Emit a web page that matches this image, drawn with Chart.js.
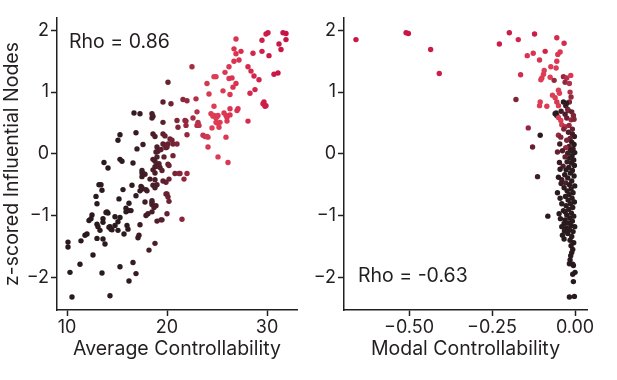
<!DOCTYPE html>
<html>
<head>
<meta charset="utf-8">
<script src="https://cdn.jsdelivr.net/npm/chart.js@4/dist/chart.umd.min.js"></script>
<style>
  html, body { margin: 0; padding: 0; background: #fff; }
  #wrap { position: relative; width: 617px; height: 380px; }
  canvas { position: absolute; top: 0; }
  #avgChart { left: 0; }
  #modChart { left: 310px; }
</style>
</head>
<body>
<div id="wrap">
  <canvas id="avgChart" width="310" height="380"></canvas>
  <canvas id="modChart" width="307" height="380"></canvas>
</div>
<script>
// axis ticks
const yTicks = [-2, -1, 0, 1, 2];
const avgTicks = [10, 20, 30];
const modTicks = [-0.5, -0.25, 0];

// left panel: average controllability vs z-scored influential nodes
const avgX = [
  10.5, 10.3, 10.1, 10.1, 11.3, 11.4, 11.8, 12.0, 12.6, 12.2, 12.4, 12.5, 12.9, 13.0, 13.2, 13.4,
  13.5, 13.0, 13.1, 13.3, 13.0, 13.6, 13.6, 13.6, 13.8, 13.5, 13.7, 14.1, 13.9, 14.1, 14.3, 14.5,
  14.8, 14.8, 14.3, 15.1, 15.3, 15.3, 15.5, 15.2, 15.3, 15.1, 15.3, 15.6, 15.7, 15.9, 16.0, 16.1,
  16.2, 16.2, 16.4, 16.2, 16.5, 16.6, 16.7, 16.6, 16.9, 16.9, 16.9, 17.0, 17.1, 17.2, 17.3, 17.3,
  17.5, 17.6, 17.6, 17.5, 17.9, 18.0, 17.8, 17.9, 18.1, 18.2, 18.3, 18.5, 18.6, 18.5, 18.5, 18.5,
  18.5, 18.8, 18.8, 18.8, 19.0, 18.9, 19.1, 19.0, 19.0, 19.0, 19.2, 19.3, 19.5, 19.6, 19.5, 19.6,
  19.6, 19.6, 20.0, 19.8, 19.7, 19.9, 19.9, 20.1, 20.0, 20.1, 20.1, 20.2, 20.3, 20.5, 20.6, 20.4,
  20.6, 20.8, 21.0, 21.0, 21.1, 21.3, 21.5, 21.6, 21.7, 21.8, 22.0, 22.0, 22.0, 22.5, 22.6, 22.9,
  23.0, 23.1, 23.0, 23.2, 23.6, 23.8, 24.0, 24.1, 24.1, 24.2, 24.4, 24.5, 24.6, 24.7, 24.7, 24.9,
  24.9, 25.0, 25.1, 25.1, 25.2, 25.3, 25.6, 25.7, 25.8, 25.9, 26.0, 25.9, 26.0, 26.1, 26.2, 26.2,
  26.3, 26.5, 26.6, 26.7, 26.7, 26.9, 26.9, 26.9, 27.0, 27.1, 27.2, 27.4, 28.1, 28.1, 28.3, 28.4,
  28.6, 28.7, 28.8, 29.2, 29.5, 29.5, 29.6, 29.8, 29.9, 29.7, 29.9, 30.1, 30.2, 30.7, 31.1, 31.2,
  31.4, 31.6, 31.9, 31.9,
  14.2, 14.4, 14.0, 15.1, 15.9, 18.9, 18.7, 19.4, 17.3, 17.4, 20.2, 19.4, 19.9, 20.1, 18.6, 18.8,
  19.8, 18.6, 18.8, 19.0, 19.1, 18.6, 20.2, 21.2, 17.5, 17.8, 17.5, 18.8, 18.6, 19.6, 17.5, 18.8,
  20.0, 18.5, 21.9, 21.9, 24.7, 25.0, 26.3, 24.9, 24.0, 26.3
];
const avgY = [
  -2.32, -1.92, -1.43, -1.51, -1.79, -1.41, -1.32, -1.30, -1.64, -1.08, -1.05, -0.99, -0.69, -0.81, -0.50, -0.50,
  -0.59, -1.14, -1.18, -1.24, -1.37, -1.05, -1.11, -1.38, -1.46, -1.93, -0.14, -0.23, -0.95, -0.96, -1.18, -1.23,
  -1.16, -1.02, -2.30, 0.22, 0.31, -0.09, -0.12, -0.73, -1.03, -1.24, -1.83, -0.58, -1.30, -0.94, -1.16, -1.22,
  -0.80, -0.92, -0.92, -2.06, -0.51, -1.76, 0.66, -0.15, 0.34, -0.68, -1.94, 0.08, -1.36, -1.32, 0.65, -1.15,
  -0.31, -0.32, 0.15, -0.57, -0.58, -0.60, -0.78, -1.00, -0.97, -1.56, -0.41, 0.65, 0.61, 0.58, -0.76, -0.82,
  -0.94, -1.45, -0.31, -0.21, 0.11, 0.03, 0.04, -0.05, -0.50, -1.09, -0.16, -0.22, -0.27, 0.84, -1.07, 0.32,
  0.51, 0.16, 0.11, 0.14, -0.05, -0.46, -0.65, -0.70, -0.97, 1.16, -0.17, -0.77, 0.24, 0.22, 0.16, 0.81,
  -0.03, -0.32, 0.16, 0.54, 0.43, -0.32, -1.06, 0.88, -0.41, 0.54, 0.86, -0.32, 0.31, 1.41, 0.58, 0.89,
  0.68, 0.51, 0.46, 0.46, 0.30, 0.28, 1.14, 0.27, 0.11, 0.97, 0.65, 0.42, 0.61, 0.77, 1.25, 1.25,
  0.58, 0.50, -0.05, 0.62, 0.43, 0.51, 1.02, 0.66, 1.32, 0.62, 0.59, 0.27, 0.53, -0.14, 1.41, 1.22,
  0.73, 1.23, 1.08, 1.70, 1.50, 1.86, 1.62, 1.14, 0.70, 0.73, 1.52, 1.66, 0.53, 1.41, 0.98, 1.34,
  1.63, 1.26, 1.04, 1.20, 1.66, 1.84, 0.81, 0.77, 0.78, 0.84, 1.94, 1.96, 1.59, 1.29, 1.31, 1.78,
  1.69, 1.96, 1.95, 1.85,
  -1.19, -1.22, -0.94, -1.10, -0.88, -0.84, -0.87, -1.07, -0.60, -0.53, -0.41, 0.07, 0.10, 0.16, 0.32, 0.28,
  0.29, -0.09, -0.12, -0.19, -0.20, -0.26, -0.19, -0.32, -0.27, -0.33, -0.37, -0.42, -0.51, -0.44, -0.55, -0.55,
  -0.65, -0.79, 0.53, 0.46, 0.62, 0.60, 0.63, 0.51, 0.28, 0.96
];

// right panel: modal controllability, same y, colour level
const modX = [
  -0.660, -0.509, -0.502, -0.435, -0.409, -0.228, -0.198, -0.171, -0.122, -0.055, -0.033, -0.144, -0.126, -0.164, -0.090, -0.107,
  -0.052, -0.045, -0.055, -0.057, -0.073, -0.093, -0.095, -0.100, -0.103, -0.075, -0.063, -0.035, -0.025, -0.013, -0.030, -0.017,
  -0.178, -0.105, -0.107, -0.085, -0.068, -0.060, -0.050, -0.047, -0.055, -0.050, -0.015, -0.012, -0.017, -0.035, -0.028, -0.022,
  -0.060, -0.055, -0.050, -0.043, -0.020, -0.010, -0.005, -0.030, -0.025, -0.012, -0.003, -0.040, -0.030, -0.018, -0.008, -0.141,
  -0.105, -0.128, -0.113, -0.082, -0.050, -0.043, -0.053, -0.047, -0.053, -0.040, -0.013, -0.017, -0.005, 0.000, -0.007, -0.005,
  -0.017, -0.002, -0.038, -0.033, -0.035, -0.030, -0.033, -0.015, -0.007,
  -0.020, -0.008, -0.002, -0.015, -0.025, -0.010, -0.003, -0.018, -0.028, -0.006, -0.014, -0.001, -0.022, -0.009, -0.030, -0.016,
  -0.004, -0.024, -0.011, -0.036, -0.002, -0.019, -0.027, -0.008, -0.014, -0.031, -0.003, -0.022, -0.040, -0.010, -0.028, -0.017,
  -0.001, -0.033, -0.012, -0.024, -0.006, -0.018, -0.029, -0.009, -0.021, -0.002, -0.014, -0.027, -0.007, -0.019, -0.011, -0.025,
  -0.004, -0.016, -0.030, -0.008, -0.021, -0.012, -0.001, -0.026, -0.017, -0.006, -0.022, -0.010, -0.015, -0.004, -0.012, -0.007,
  -0.010, -0.032, -0.040, -0.044, -0.048, -0.045, -0.042, -0.045, -0.050, -0.038, -0.046, -0.034, -0.057, -0.026, -0.042
];
const modY = [
  1.85, 1.96, 1.95, 1.69, 1.30, 1.78, 1.96, 1.85, 1.94, 1.88, 1.79, 1.59, 1.63, 1.28, 1.66, 1.52,
  1.61, 1.65, 1.50, 1.39, 1.41, 1.35, 1.29, 1.23, 1.20, 1.24, 1.19, 1.25, 1.23, 1.27, 1.16, 1.14,
  0.88, 0.84, 0.78, 0.77, 0.95, 0.91, 1.03, 0.98, 0.84, 0.78, 1.00, 0.92, 0.84, 0.84, 0.78, 0.72,
  0.65, 0.62, 0.59, 0.54, 0.70, 0.68, 0.62, 0.64, 0.58, 0.55, 0.56, 0.47, 0.44, 0.46, 0.40, 0.42,
  0.30, 0.11, -0.37, -1.01, 0.30, 0.27, 0.03, -0.14, -0.63, -0.81, -1.65, -1.78, -1.81, -1.92, -1.95, -2.07,
  -2.32, -2.31, -1.32, -1.38, -0.92, -0.94, -1.13, -1.72, -1.79,
  0.35, 0.32, 0.28, 0.25, 0.22, 0.19, 0.15, 0.12, 0.10, 0.08, 0.05, 0.02, 0.01, -0.03, -0.05, -0.07,
  -0.10, -0.13, -0.15, -0.20, -0.19, -0.22, -0.26, -0.27, -0.31, -0.34, -0.36, -0.39, -0.42, -0.44, -0.47, -0.50,
  -0.52, -0.55, -0.57, -0.60, -0.63, -0.66, -0.69, -0.72, -0.75, -0.78, -0.81, -0.84, -0.87, -0.90, -0.96, -0.99,
  -1.01, -1.04, -1.07, -1.09, -1.12, -1.16, -1.18, -1.20, -1.23, -1.26, -1.29, -1.34, -1.40, -1.44, -1.49, -1.55,
  -1.60, -1.25, -1.18, -1.05, -0.97, -0.72, -0.48, -0.25, -0.38, 0.05, 0.16, 0.40, 0.66, 0.82, 0.69
];
const modC = [
  31, 31, 31, 30, 30, 30, 30, 29, 30, 28, 28, 27, 27, 28, 29, 27,
  26, 26, 26, 25, 25, 25, 25, 25, 25, 25, 22, 22, 23, 26, 22, 23,
  21, 25, 25, 25, 25, 25, 25, 25, 24, 25, 23, 22, 21, 16, 18, 20,
  15, 17, 25, 25, 21, 20, 21, 19, 20, 22, 21, 24, 23, 22, 20, 22,
  15, 20, 18, 15, 22, 21, 20, 17, 13, 13, 12, 12, 12, 11, 11, 11,
  10, 11, 13, 13, 14, 15, 13, 12, 12,
  19, 18, 17, 20, 21, 16, 15, 19, 22, 17, 16, 14, 18, 15, 20, 16,
  14, 17, 15, 19, 13, 16, 14, 15, 13, 15, 14, 16, 18, 14, 19, 15,
  13, 14, 14, 16, 13, 14, 13, 15, 14, 12, 13, 14, 13, 15, 13, 14,
  13, 12, 13, 14, 13, 12, 13, 12, 13, 12, 12, 13, 12, 12, 12, 11,
  12, 12, 13, 13, 14, 13, 17, 16, 14, 19, 18, 21, 13, 16, 18
];

const FONT = "Inter, 'DejaVu Sans', sans-serif";
const INK = '#231f20';

// dark -> brick -> pink red -> crimson, keyed on average controllability
const colorStops = [
  [10, [40, 26, 30]], [16, [44, 27, 31]], [19, [78, 30, 42]], [22, [150, 40, 62]],
  [24.5, [222, 62, 86]], [27, [218, 50, 80]], [30, [204, 28, 72]], [32, [198, 18, 68]]
];
function colorFor(c) {
  if (c <= colorStops[0][0]) return `rgb(${colorStops[0][1].join(',')})`;
  for (let i = 1; i < colorStops.length; i++) {
    const [c1, a] = colorStops[i - 1], [c2, b] = colorStops[i];
    if (c <= c2) {
      const t = (c - c1) / (c2 - c1);
      return `rgb(${a.map((v, k) => Math.round(v + (b[k] - v) * t)).join(',')})`;
    }
  }
  return `rgb(${colorStops[colorStops.length - 1][1].join(',')})`;
}

const minus = v => (v < 0 ? '\u2212' : '');
const fmtInt = v => minus(v) + Math.abs(v);
const fmt2 = v => minus(v) + Math.abs(v).toFixed(2);

function axisStyle() {
  return {
    grid: { display: true, drawOnChartArea: false, drawTicks: true, tickLength: 6, tickWidth: 1.5, tickColor: INK },
    border: { display: true, color: INK, width: 1.5 },
  };
}

function yScale(width, title) {
  return {
    min: -2.53, max: 2.2,
    afterBuildTicks: s => { s.ticks = yTicks.map(v => ({ value: v })); },
    afterFit: s => { s.width = width; },
    ticks: { color: INK, font: { family: FONT, size: 18 }, padding: 2, callback: v => fmtInt(v) },
    title: { display: !!title, text: title, color: INK, font: { family: FONT, size: 19.5 }, padding: { top: 0, bottom: 0 } },
    ...axisStyle(),
  };
}

function xScale(min, max, ticks, fmt, title) {
  return {
    type: 'linear', min, max,
    afterBuildTicks: s => { s.ticks = ticks.map(v => ({ value: v })); },
    afterFit: s => { s.height = 70; },
    ticks: { color: INK, font: { family: FONT, size: 18 }, padding: 1, maxRotation: 0, callback: v => fmt(v) },
    title: { display: true, text: title, color: INK, font: { family: FONT, size: 19.5 }, padding: { top: 0, bottom: 19 } },
    ...axisStyle(),
  };
}

const rhoLabel = {
  id: 'rho',
  afterDraw(chart, args, opts) {
    const { ctx, chartArea } = chart;
    ctx.save();
    ctx.font = `19.5px ${FONT}`;
    ctx.fillStyle = INK;
    ctx.textBaseline = 'middle';
    ctx.fillText(opts.text, chartArea.left + opts.dx, chartArea.top + opts.dy);
    ctx.restore();
  }
};

function scatter(id, points, colors, scales, padRight, rho) {
  return new Chart(document.getElementById(id), {
    type: 'scatter',
    data: {
      datasets: [{
        data: points,
        backgroundColor: colors,
        pointRadius: 2.7,
        pointBorderWidth: 0,
        pointHoverRadius: 2.7,
      }],
    },
    options: {
      responsive: false,
      animation: false,
      events: [],
      layout: { padding: { top: 18, right: padRight, bottom: 0, left: 0 } },
      plugins: { legend: { display: false }, tooltip: { enabled: false }, rho },
      scales,
    },
    plugins: [rhoLabel],
  });
}

scatter('avgChart',
  avgX.map((x, i) => ({ x, y: avgY[i] })),
  avgX.map(colorFor),
  { x: xScale(9.0, 33.0, avgTicks, fmtInt, 'Average Controllability'), y: yScale(57, 'z-scored Influential Nodes') },
  13,
  { text: 'Rho = 0.86', dx: 12, dy: 24 });

scatter('modChart',
  modX.map((x, i) => ({ x, y: modY[i] })),
  modC.map(colorFor),
  { x: xScale(-0.696, 0.036, modTicks, fmt2, 'Modal Controllability'), y: yScale(34, '') },
  30,
  { text: 'Rho = -0.63', dx: 14, dy: 258 });
</script>
</body>
</html>
